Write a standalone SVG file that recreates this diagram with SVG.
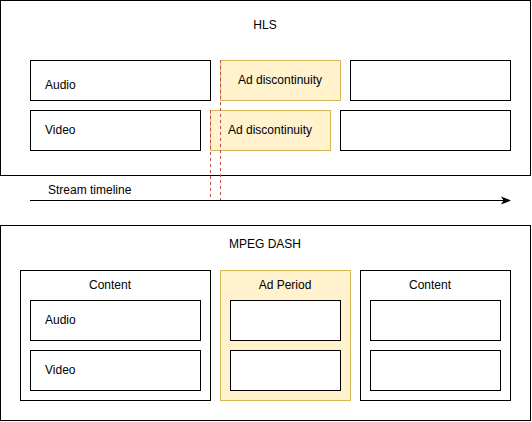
<svg xmlns="http://www.w3.org/2000/svg" width="532" height="422" viewBox="0 0 532 422">
<defs>
<style>
text{font-family:"Liberation Sans",Arial,Helvetica,sans-serif;font-size:12px;fill:#000}
.box{fill:#fff;stroke:#000;stroke-width:1}
.ad{fill:#fff2cc;stroke:#d6b656;stroke-width:1}
.c{text-anchor:middle;dominant-baseline:central}
.l{dominant-baseline:central}
.dash{stroke:#b85450;stroke-width:1;stroke-dasharray:3 3;fill:none}
</style>
<marker id="arr" viewBox="0 0 10 10" refX="9" refY="5" markerWidth="10" markerHeight="10" markerUnits="userSpaceOnUse" orient="auto">
<path d="M0,1 L10,5 L0,9 L2.5,5 Z" fill="#000"/>
</marker>
</defs>
<rect width="532" height="422" fill="#fff"/>
<g id="hls">
<rect class="box" x="0.5" y="0.5" width="530" height="175"/>
<text class="c" x="265" y="25">HLS</text>
</g>
<g id="hls-audio"><rect class="box" x="30.5" y="60.5" width="180" height="40"/><text class="l" x="45" y="85">Audio</text></g>
<g id="hls-audio-ad"><rect class="ad" x="220.5" y="60.5" width="120" height="40"/><text class="c" x="280" y="80">Ad discontinuity</text></g>
<g id="hls-audio-right"><rect class="box" x="350.5" y="60.5" width="160" height="40"/></g>
<g id="hls-video"><rect class="box" x="30.5" y="110.5" width="170" height="40"/><text class="l" x="45" y="130">Video</text></g>
<g id="hls-video-ad"><rect class="ad" x="210.5" y="110.5" width="120" height="40"/><text class="c" x="270" y="130">Ad discontinuity</text></g>
<g id="hls-video-right"><rect class="box" x="340.5" y="110.5" width="170" height="40"/></g>
<g id="connectors">
<line class="dash" x1="220.5" y1="60" x2="220.5" y2="200"/>
<line class="dash" x1="210.5" y1="110" x2="210.5" y2="200"/>
<line x1="30" y1="200.5" x2="510" y2="200.5" stroke="#000" stroke-width="1" marker-end="url(#arr)"/>
</g>
<g id="timeline-label"><text class="l" x="48" y="190">Stream timeline</text></g>
<g id="dash">
<rect class="box" x="0.5" y="225.5" width="530" height="195"/>
<text class="c" x="265" y="244">MPEG DASH</text>
</g>
<g id="content1">
<rect class="box" x="20.5" y="270.5" width="190" height="130"/>
<text class="c" x="110" y="285">Content</text>
</g>
<g id="content1-audio"><rect class="box" x="30.5" y="300.5" width="170" height="40"/><text class="l" x="45" y="320">Audio</text></g>
<g id="content1-video"><rect class="box" x="30.5" y="350.5" width="170" height="40"/><text class="l" x="45" y="370">Video</text></g>
<g id="adperiod">
<rect class="ad" x="220.5" y="270.5" width="130" height="130"/>
<text class="c" x="285" y="285">Ad Period</text>
</g>
<g id="adperiod-audio"><rect class="box" x="230.5" y="300.5" width="110" height="40"/></g>
<g id="adperiod-video"><rect class="box" x="230.5" y="350.5" width="110" height="40"/></g>
<g id="content2">
<rect class="box" x="360.5" y="270.5" width="150" height="130"/>
<text class="c" x="430" y="285">Content</text>
</g>
<g id="content2-audio"><rect class="box" x="370.5" y="300.5" width="130" height="40"/></g>
<g id="content2-video"><rect class="box" x="370.5" y="350.5" width="130" height="40"/></g>
</svg>
